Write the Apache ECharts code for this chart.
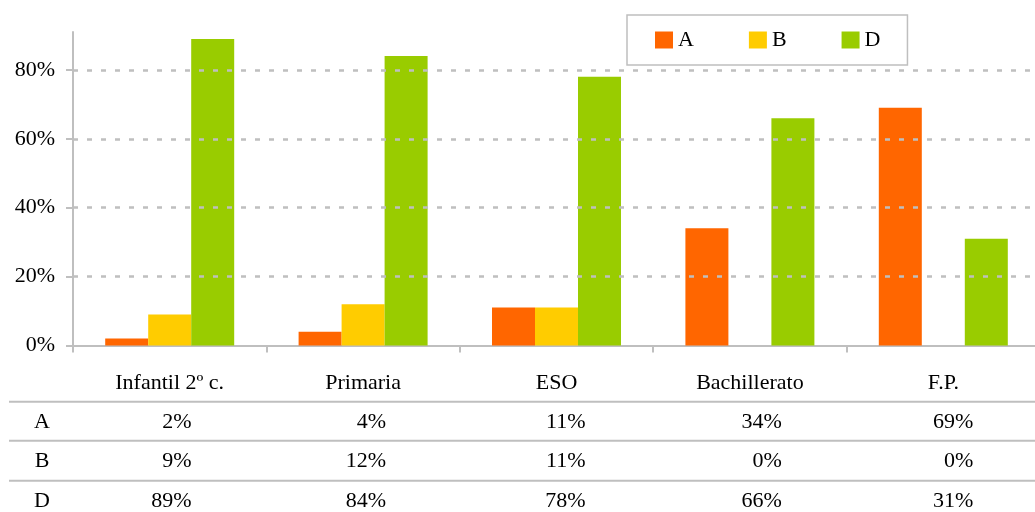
<!DOCTYPE html>
<html>
<head>
<meta charset="utf-8">
<script src="https://cdn.jsdelivr.net/npm/echarts@6/dist/echarts.min.js"></script>
<style>
html,body{margin:0;padding:0;background:#fff;}
#c{width:1035px;height:512px;}
</style>
</head>
<body>
<div id="c"></div>
<script>
const categories = ['Infantil 2º c.', 'Primaria', 'ESO', 'Bachillerato', 'F.P.'];
const seriesNames = ['A', 'B', 'D'];
const seriesA = [2, 4, 11, 34, 69];
const seriesB = [9, 12, 11, 0, 0];
const seriesD = [89, 84, 78, 66, 31];
const yTicks = [0, 20, 40, 60, 80];

const colors = ['#FF6600', '#FFCC00', '#99CC00'];
const FONT = 'Liberation Serif';
const FS = 22;
const gray = '#BFBFBF';

const chart = echarts.init(document.getElementById('c'), null, {renderer: 'canvas'});
const allSeries = [seriesA, seriesB, seriesD];

chart.setOption({
  animation: false,
  textStyle: {fontFamily: FONT},
  legend: {
    data: seriesNames,
    left: 627, top: 15,
    padding: [14, 27, 14, 28],
    itemWidth: 18, itemHeight: 17, itemGap: 55,
    borderColor: gray, borderWidth: 1.5,
    icon: 'rect',
    textStyle: {fontFamily: FONT, fontSize: FS, color: '#000', padding: [0, 0, 0, 0]}
  },
  grid: {left: 73, width: 967, top: 32, bottom: 166.5, containLabel: false, outerBoundsMode: 'none'},
  xAxis: {
    type: 'category',
    data: categories,
    axisLine: {lineStyle: {color: gray, width: 2}},
    axisTick: {show: true, length: 7, lineStyle: {color: gray, width: 2}},
    axisLabel: {fontFamily: FONT, fontSize: FS, color: '#000', margin: 27}
  },
  yAxis: {
    type: 'value',
    min: 0, max: 91, interval: 20,
    axisLine: {show: true, lineStyle: {color: gray, width: 2}},
    axisTick: {show: true, length: 7, customValues: yTicks, lineStyle: {color: gray, width: 2}},
    axisLabel: {customValues: yTicks, fontFamily: FONT, fontSize: FS, color: '#000', margin: 18,
      formatter: v => v + '%'},
    splitLine: {show: false}
  },
  series: [
    {type: 'line', data: [], silent: true, z: 0,
     markLine: {silent: true, symbol: 'none', label: {show: false},
       lineStyle: {color: gray, width: 2.5, type: [5, 9]},
       data: yTicks.filter(v => v > 0).map(v => ({yAxis: v}))}}
  ].concat(seriesNames.map((n, i) => ({
    name: n, type: 'bar', data: allSeries[i],
    barGap: '0%', barCategoryGap: '33.3%',
    itemStyle: {color: colors[i]}, z: 2
  })))
});

function drawTable() {
  const elems = [];
  const lineYs = [401.7, 440.7, 480.7];
  lineYs.forEach(y => elems.push({
    type: 'line', shape: {x1: 9, y1: y, x2: 1035, y2: y},
    style: {stroke: gray, lineWidth: 2}
  }));
  const rowYs = [422, 461.5, 501];
  const offsets = [22, 23, 29, 32, 30];
  seriesNames.forEach((n, r) => {
    elems.push({type: 'text', x: 42, y: rowYs[r],
      style: {text: n, font: FS + 'px "' + FONT + '"', fill: '#000', align: 'center', verticalAlign: 'middle'}});
    categories.forEach((c, i) => {
      const cx = chart.convertToPixel({xAxisIndex: 0}, i);
      elems.push({type: 'text', x: cx + offsets[i], y: rowYs[r],
        style: {text: allSeries[r][i] + '%', font: FS + 'px "' + FONT + '"', fill: '#000', align: 'right', verticalAlign: 'middle'}});
    });
  });
  chart.setOption({graphic: {elements: elems}});
}
drawTable();
</script>
</body>
</html>
